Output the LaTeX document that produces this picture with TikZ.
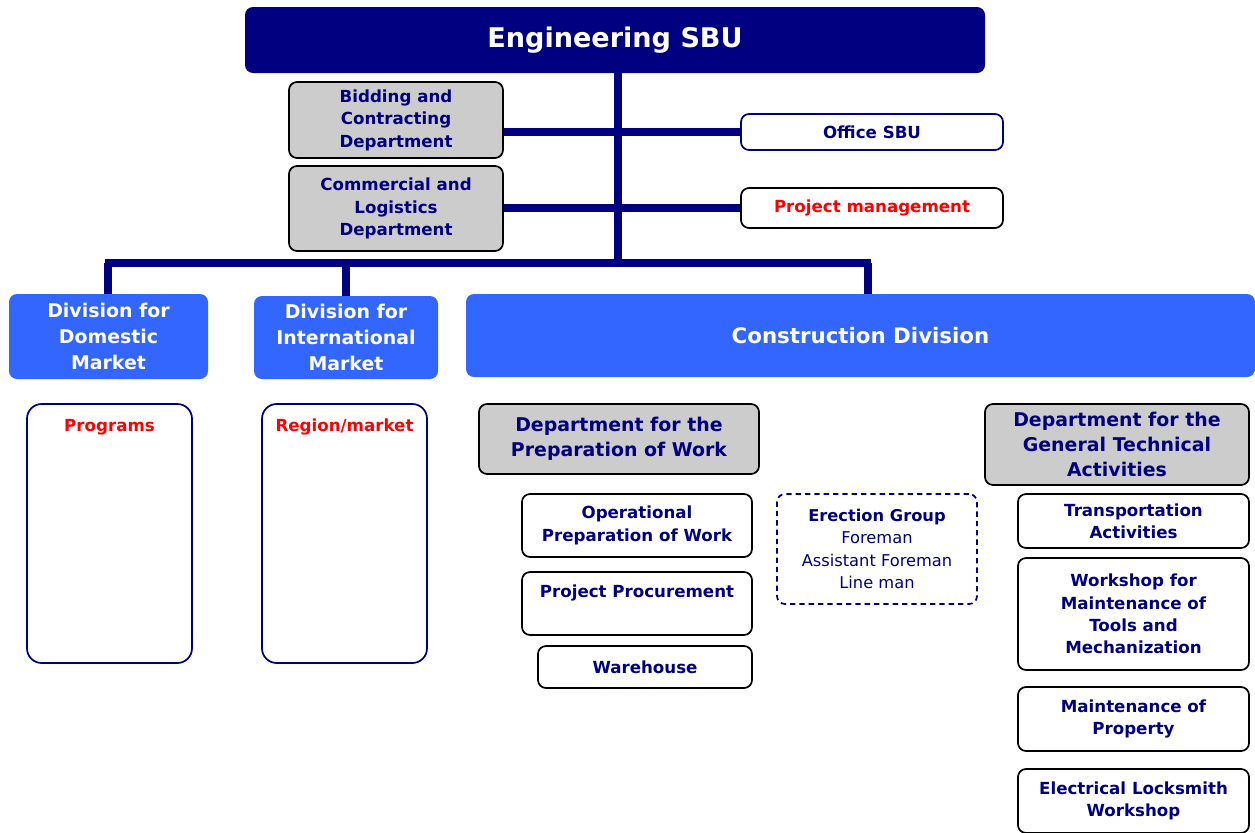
\documentclass[tikz,border=0pt]{standalone}
\usepackage{fontspec}
\setmainfont{DejaVu Sans}
\definecolor{navy}{RGB}{0,0,128}
\definecolor{divblue}{RGB}{51,102,255}
\definecolor{boxgrey}{RGB}{204,204,204}
\begin{document}
\begin{tikzpicture}[x=0.75pt,y=-0.75pt,
  sz/.style 2 args={minimum width=#1*0.75pt, minimum height=#2*0.75pt},
  basebox/.style={rectangle, rounded corners=6pt, inner sep=0pt, align=center},
  bodyfont/.style={font=\bfseries\fontsize{12.5}{16.8}\selectfont},
  greybox/.style={basebox, bodyfont, fill=boxgrey, draw=black, line width=1.3pt, text=navy},
  whitebox/.style={basebox, bodyfont, fill=white, draw=black, line width=1.3pt, text=navy},
  deptfont/.style={font=\bfseries\fontsize{14.2}{18.8}\selectfont},
  divbox/.style={basebox, fill=divblue, text=white, font=\bfseries\fontsize{14.2}{19.5}\selectfont},
  topbox/.style={basebox, fill=navy, text=white, font=\bfseries\fontsize{20.3}{24}\selectfont},
  listbox/.style={basebox, rounded corners=11pt, draw=navy, line width=1.3pt, fill=white},
  redlabel/.style={text=red, font=\bfseries\fontsize{12.5}{16.8}\selectfont, inner sep=0pt},
  dashbox/.style={basebox, draw=navy, line width=1.3pt, dash pattern=on 4pt off 3pt, text=navy, font=\fontsize{12.2}{16.9}\selectfont},
  conn/.style={draw=navy, line width=5.3pt},
  trunk/.style={draw=navy, line width=6pt}
]
\useasboundingbox (0,0) rectangle (1255,832);
\clip (0,0) rectangle (1255,832);
\fill[white] (0,0) rectangle (1255,832);

% connector junctions
\coordinate (tj) at (618,263);
\coordinate (bl) at (105,263);
\coordinate (br) at (871,263);
\coordinate (jd) at (108,263);
\coordinate (ji) at (346,263);
\coordinate (jc) at (868,263);

% top
\node[topbox, sz={740}{66}] (eng) at (615,40) {Engineering SBU};

% staff departments
\node[greybox, sz={214}{76}] (bid) at (396,120) {Bidding and\\Contracting\\Department};
\node[greybox, sz={214}{85}] (com) at (396,208.5) {Commercial and\\Logistics\\Department};
\node[whitebox, draw=navy, sz={262}{36}] (office) at (872,132) {Office SBU};
\node[whitebox, sz={262}{40}, text=red] (pm) at (872,208) {Project management};

% divisions
\node[divbox, sz={199}{85}] (dom) at (108.5,336.5) {Division for\\Domestic\\Market};
\node[divbox, sz={184}{83}] (int) at (346,337.5) {Division for\\International\\Market};
\node[divbox, sz={789}{83}, font=\bfseries\fontsize{16}{20}\selectfont] (con) at (860.5,335.5) {Construction Division};

% division contents
\node[listbox, sz={165}{259}] (prog) at (109.5,533.5) {};
\node[redlabel] (progt) at (109.5,427) {Programs};
\node[listbox, sz={165}{259}] (reg) at (344.5,533.5) {};
\node[redlabel] (regt) at (344.5,427) {Region/market};

% construction division
\node[greybox, deptfont, sz={280}{70}] (prep) at (619,439) {Department for the\\Preparation of Work};
\node[whitebox, sz={230}{63}] (op) at (637,525.5) {Operational\\Preparation of Work};
\node[whitebox, sz={230}{63}] (proc) at (637,603.5) {};
\node[bodyfont, text=navy, inner sep=0pt] (proct) at (637,593) {Project Procurement};
\node[whitebox, sz={214}{42}] (wh) at (645,667) {Warehouse};

\node[dashbox, sz={200}{110}] (ere) at (877,549) {\textbf{Erection Group}\\Foreman\\Assistant Foreman\\Line man};

\node[greybox, deptfont, sz={264}{81}] (gen) at (1117,444.5) {Department for the\\General Technical\\Activities};
\node[whitebox, sz={231}{54}] (tr) at (1133.5,521) {Transportation\\Activities};
\node[whitebox, sz={231}{112}] (ws) at (1133.5,614) {Workshop for\\Maintenance of\\Tools and\\Mechanization};
\node[whitebox, sz={231}{64}] (mp) at (1133.5,719) {Maintenance of\\Property};
\node[whitebox, sz={231}{64}] (el) at (1133.5,801) {Electrical Locksmith\\Workshop};

% connectors
\draw[trunk] (eng.south -| tj) -- (tj);
\draw[conn] (bid.east |- office.west) -- (office.west);
\draw[conn] (com.east |- pm.west) -- (pm.west);
\draw[conn] (bl) -- (br);
\draw[conn] (jd) -- (jd |- dom.north);
\draw[conn] (ji) -- (ji |- int.north);
\draw[conn] (jc) -- (jc |- con.north);
\end{tikzpicture}
\end{document}
